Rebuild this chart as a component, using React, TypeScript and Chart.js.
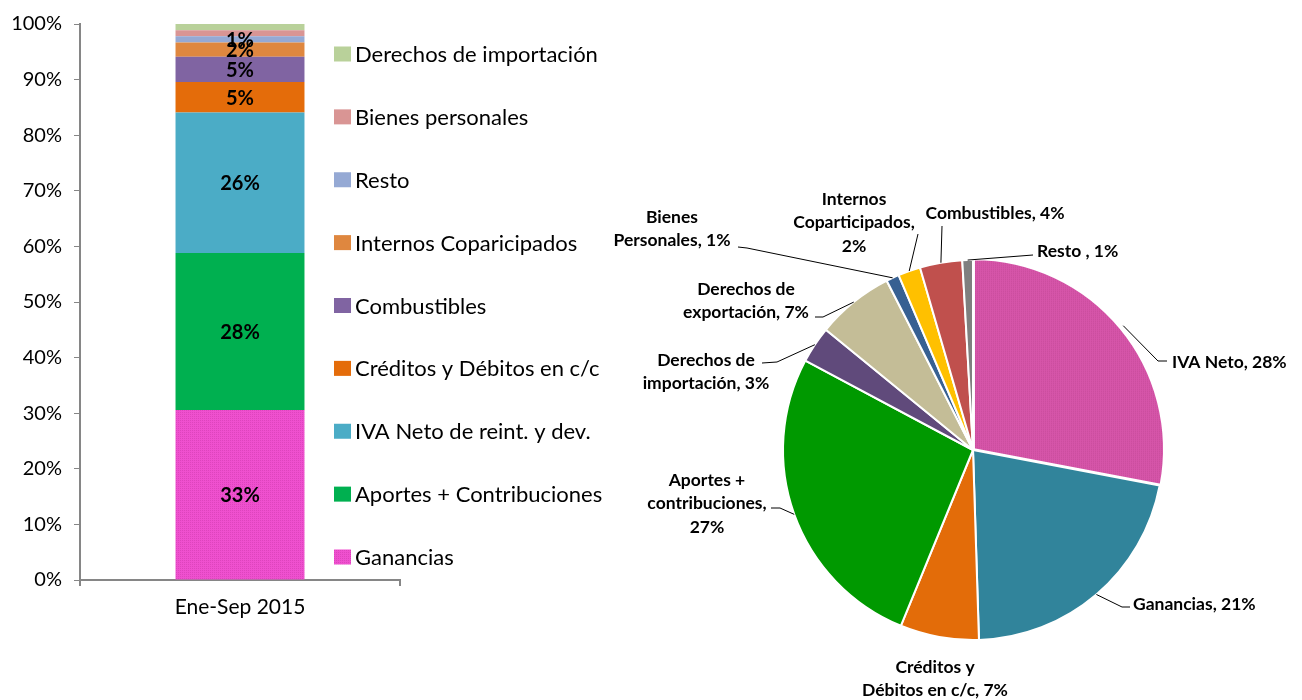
import React, { useEffect, useRef } from "react";
import { Chart, registerables } from "chart.js";

Chart.register(...registerables);

// ---------- Bar chart data (100% stacked, bottom to top) ----------
const barCategories = ["Ene-Sep 2015"];
const barSeriesNames = [
  "Ganancias",
  "Aportes + Contribuciones",
  "IVA Neto de reint. y dev.",
  "Créditos y Débitos en c/c",
  "Combustibles",
  "Internos Coparicipados",
  "Resto",
  "Bienes personales",
  "Derechos de importación",
];
const barSeriesValues = [30.5, 28.2, 25.2, 5.5, 4.5, 2.6, 1.1, 1.1, 1.1];
const barSeriesLabels = ["33%", "28%", "26%", "5%", "5%", "2%", "1%", "", ""];
const barColors = [
  "#ef50cf",
  "#00b050",
  "#4bacc6",
  "#e46c0a",
  "#8064a2",
  "#df873f",
  "#95a9d4",
  "#d99594",
  "#b9d19a",
];

// ---------- Pie chart data (clockwise from 12 o'clock) ----------
const pieCategories = [
  "IVA Neto",
  "Ganancias",
  "Créditos y Débitos en c/c",
  "Aportes + contribuciones",
  "Derechos de importación",
  "Derechos de exportación",
  "Bienes Personales",
  "Internos Coparticipados",
  "Combustibles",
  "Resto ",
];
const pieValues = [28, 21.5, 6.7, 26.6, 3.1, 6.6, 1.1, 1.9, 3.6, 0.9];
const pieLabelTexts = [
  ["IVA Neto, 28%"],
  ["Ganancias, 21%"],
  ["Créditos y", "Débitos en c/c, 7%"],
  ["Aportes +", "contribuciones,", "27%"],
  ["Derechos de", "importación, 3%"],
  ["Derechos de", "exportación, 7%"],
  ["Bienes", "Personales, 1%"],
  ["Internos", "Coparticipados,", "2%"],
  ["Combustibles, 4%"],
  ["Resto , 1%"],
];
const pieColors = [
  "#d655a9",
  "#31849b",
  "#e36c09",
  "#009900",
  "#604a7b",
  "#c4bd97",
  "#376092",
  "#ffc000",
  "#c0504d",
  "#7f7f7f",
];

// ---------- Layout (styles / positions of annotations, relative to pie centre) ----------
type LabelLayout = {
  tx: number;
  ty: number;
  align: CanvasTextAlign;
  elbow?: [number, number];
  end?: [number, number];
};
const pieLabelLayout: LabelLayout[] = [
  { tx: 199, ty: -88, align: "left", elbow: [185, -89], end: [194, -89] },
  { tx: 160, ty: 154, align: "left", elbow: [149, 157], end: [157, 157] },
  { tx: -38, ty: 217, align: "center" },
  { tx: -266, ty: 30, align: "center", elbow: [-193, 58], end: [-202, 58] },
  { tx: -267, ty: -90, align: "center", elbow: [-196, -88], end: [-211, -87] },
  { tx: -227, ty: -161, align: "center", elbow: [-150, -133], end: [-158, -133] },
  { tx: -301, ty: -233, align: "center", elbow: [-226, -202], end: [-235, -203] },
  { tx: -119, ty: -251, align: "center", elbow: [-55, -216], end: [-55, -216] },
  { tx: 22, ty: -237, align: "center", elbow: [-31, -224], end: [-31, -224] },
  { tx: 64, ty: -199, align: "left", elbow: [60, -195], end: [60, -195] },
];
const PIE_LINE_HEIGHT = 23.5;
const PIE_FONT = "bold 17.5px Lato";

const LEGEND = { x: 334, firstY: 54, step: 62.875, sw: 17, sh: 15, gap: 4, font: "22px Lato" };

function makePattern(base: string, dot: string): CanvasPattern | string {
  const c = document.createElement("canvas");
  c.width = 2;
  c.height = 2;
  const g = c.getContext("2d");
  if (!g) return base;
  g.fillStyle = base;
  g.fillRect(0, 0, 2, 2);
  g.fillStyle = dot;
  g.fillRect(0, 0, 1, 1);
  const p = g.createPattern(c, "repeat");
  return p || base;
}

const barLabelsPlugin = {
  id: "barLabels",
  afterDatasetsDraw(chart: any) {
    const ctx = chart.ctx;
    ctx.save();
    ctx.font = "bold 20px Lato";
    ctx.fillStyle = "#000";
    ctx.textAlign = "center";
    ctx.textBaseline = "middle";
    chart.data.datasets.forEach((ds: any, i: number) => {
      const meta = chart.getDatasetMeta(i);
      meta.data.forEach((el: any) => {
        const txt = barSeriesLabels[i];
        if (!txt) return;
        ctx.fillText(txt, el.x, (el.y + el.base) / 2 + 1);
      });
    });
    ctx.restore();
  },
  afterDraw(chart: any) {
    const ctx = chart.ctx;
    ctx.save();
    ctx.font = LEGEND.font;
    ctx.textAlign = "left";
    ctx.textBaseline = "middle";
    const n = chart.data.datasets.length;
    for (let k = 0; k < n; k++) {
      const i = n - 1 - k;
      const ds = chart.data.datasets[i];
      const y = LEGEND.firstY + k * LEGEND.step;
      ctx.fillStyle = ds.backgroundColor;
      ctx.fillRect(LEGEND.x, y - LEGEND.sh / 2, LEGEND.sw, LEGEND.sh);
      ctx.fillStyle = "#000";
      ctx.fillText(ds.label, LEGEND.x + LEGEND.sw + LEGEND.gap, y + 1);
    }
    ctx.restore();
  },
};

const pieLabelsPlugin = {
  id: "pieLabels",
  afterDraw(chart: any) {
    const ctx = chart.ctx;
    const meta = chart.getDatasetMeta(0);
    ctx.save();
    ctx.font = PIE_FONT;
    ctx.fillStyle = "#000";
    ctx.strokeStyle = "#000";
    ctx.lineWidth = 1;
    ctx.textBaseline = "middle";
    meta.data.forEach((arc: any, i: number) => {
      const p = arc.getProps(["x", "y", "startAngle", "endAngle", "outerRadius"], true);
      const cx = p.x;
      const cy = p.y;
      const lay = pieLabelLayout[i];
      const off = arc.options.offset || 0;
      const mid = (p.startAngle + p.endAngle) / 2;
      if (lay.elbow && lay.end) {
        const sx = cx + Math.cos(mid) * (p.outerRadius + off);
        const sy = cy + Math.sin(mid) * (p.outerRadius + off);
        ctx.beginPath();
        ctx.moveTo(sx, sy);
        ctx.lineTo(cx + lay.elbow[0], cy + lay.elbow[1]);
        ctx.lineTo(cx + lay.end[0], cy + lay.end[1]);
        ctx.stroke();
      }
      ctx.textAlign = lay.align;
      pieLabelTexts[i].forEach((line, j) => {
        ctx.fillText(line, cx + lay.tx, cy + lay.ty + j * PIE_LINE_HEIGHT);
      });
    });
    ctx.restore();
  },
};

export default function App() {
  const barRef = useRef<HTMLCanvasElement | null>(null);
  const pieRef = useRef<HTMLCanvasElement | null>(null);

  useEffect(() => {
    if (!barRef.current || !pieRef.current) return;
    const gray = "#868686";
    const barBg = barColors.map((c, i) => (i === 0 ? makePattern(c, "#de44bd") : c));
    const barTotal = barSeriesValues.reduce((a, b) => a + b, 0);
    const bar = new Chart(barRef.current, {
      type: "bar",
      data: {
        labels: barCategories,
        datasets: barSeriesNames.map((name, i) => ({
          label: name,
          data: [(barSeriesValues[i] / barTotal) * 100],
          backgroundColor: barBg[i] as any,
          borderWidth: 0,
          categoryPercentage: 1,
          barPercentage: 0.403,
        })),
      },
      options: {
        responsive: false,
        animation: false,
        devicePixelRatio: 1,
        layout: { padding: { left: 0, right: 220, top: 19, bottom: 80 } },
        plugins: { legend: { display: false }, tooltip: { enabled: false } },
        scales: {
          x: {
            stacked: true,
            afterFit: (s: any) => {
              s.height = 40;
            },
            grid: {
              display: true,
              offset: true,
              drawOnChartArea: false,
              drawTicks: true,
              tickLength: 6,
              color: gray,
              lineWidth: 2,
            },
            border: { display: true, color: gray, width: 2 },
            ticks: { color: "#000", font: { family: "Lato", size: 21 }, padding: 9 },
          },
          y: {
            stacked: true,
            min: 0,
            max: 100,
            afterFit: (s: any) => {
              s.width = 80;
            },
            grid: {
              display: true,
              drawOnChartArea: false,
              drawTicks: true,
              tickLength: 6,
              color: gray,
              lineWidth: 1,
            },
            border: { display: true, color: gray, width: 2 },
            ticks: {
              stepSize: 10,
              color: "#000",
              font: { family: "Lato", size: 20 },
              padding: 12,
              callback: (v: any) => v + "%",
            },
          },
        },
      },
      plugins: [barLabelsPlugin],
    });

    const pieBg = pieColors.map((c, i) => (i === 0 ? makePattern(c, "#c94c9c") : c));
    const pie = new Chart(pieRef.current, {
      type: "pie",
      data: {
        labels: pieCategories,
        datasets: [
          {
            data: pieValues,
            backgroundColor: pieBg as any,
            borderColor: "#ffffff",
            borderWidth: 2,
            offset: pieValues.map((_, i) => (i === 0 ? 5 : 0)),
          },
        ],
      },
      options: {
        responsive: false,
        animation: false,
        devicePixelRatio: 1,
        radius: 190,
        layout: { padding: { left: 84, right: 0, top: 200, bottom: 0 } },
        plugins: { legend: { display: false }, tooltip: { enabled: false } },
      } as any,
      plugins: [pieLabelsPlugin],
    });

    return () => {
      bar.destroy();
      pie.destroy();
    };
  }, []);

  return (
    <div style={{ position: "absolute", left: 0, top: 0, width: 1302, height: 700, background: "#fff" }}>
      <canvas
        ref={pieRef}
        width={742}
        height={700}
        style={{ position: "absolute", left: 560, top: 0, width: 742, height: 700 }}
      />
      <canvas
        ref={barRef}
        width={620}
        height={700}
        style={{ position: "absolute", left: 0, top: 0, width: 620, height: 700 }}
      />
    </div>
  );
}
